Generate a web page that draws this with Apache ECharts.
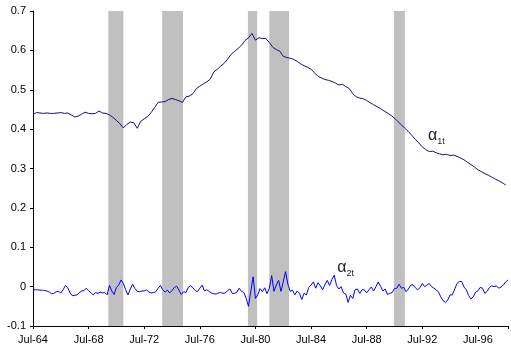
<!DOCTYPE html>
<html>
<head>
<meta charset="utf-8">
<script src="https://cdn.jsdelivr.net/npm/echarts@6/dist/echarts.min.js"></script>
<style>html,body{margin:0;padding:0;background:#fff}#c{width:511px;height:352px}</style>
</head>
<body>
<div id="c"></div>
<script>
// Month index 0 = Jul-1964
const tickLabels = ['Jul-64','Jul-68','Jul-72','Jul-76','Jul-80','Jul-84','Jul-88','Jul-92','Jul-96'];
const tickStep = 48;           // months between labelled ticks
const xMaxMonth = 410;

// recessions (month index start / end)
const recessionStart = [65, 111.5, 185.5, 204, 311.5];
const recessionEnd   = [78, 129.5, 193.5, 221, 321];

// alpha_1t, quarterly readings (every 3 months from Jul-64)
const alpha1Step = 3;
const alpha1 = [
0.437,0.442,0.441,0.440,0.441,0.440,0.440,0.441,0.442,0.440,0.441,0.436,0.431,0.433,0.438,0.443,
0.440,0.439,0.440,0.446,0.441,0.440,0.436,0.430,0.422,0.414,0.403,0.412,0.418,0.416,0.402,0.420,
0.426,0.432,0.442,0.455,0.468,0.469,0.470,0.475,0.478,0.475,0.472,0.468,0.482,0.484,0.490,0.503,
0.509,0.515,0.520,0.527,0.545,0.552,0.560,0.567,0.578,0.590,0.597,0.605,0.613,0.625,0.632,0.643,
0.626,0.632,0.630,0.630,0.620,0.608,0.602,0.598,0.585,0.582,0.580,0.577,0.572,0.566,0.561,0.557,
0.552,0.543,0.534,0.530,0.526,0.524,0.521,0.517,0.512,0.514,0.508,0.503,0.490,0.482,0.479,0.477,
0.473,0.467,0.462,0.457,0.452,0.446,0.441,0.435,0.428,0.419,0.411,0.402,0.394,0.384,0.374,0.365,
0.355,0.348,0.343,0.344,0.340,0.337,0.335,0.336,0.333,0.334,0.331,0.327,0.322,0.316,0.310,0.304,
0.297,0.292,0.287,0.283,0.278,0.273,0.269,0.264,0.258
];

// alpha_2t, bimonthly readings (every 2 months from Jul-64)
const alpha2Step = 2;
const alpha2 = [
-0.008,-0.008,-0.008,-0.009,-0.009,-0.010,-0.011,-0.014,-0.018,-0.017,-0.013,-0.012,-0.016,-0.008,0.003,-0.003,
-0.016,-0.023,-0.022,-0.021,-0.015,-0.011,-0.010,-0.004,-0.010,-0.016,-0.021,-0.015,-0.017,-0.014,-0.016,-0.015,
-0.021,0.003,-0.011,-0.020,-0.002,0.004,0.017,0.008,-0.008,-0.021,-0.006,0.006,-0.005,-0.012,-0.013,-0.011,
-0.011,-0.008,-0.014,-0.016,-0.015,-0.013,-0.004,0.003,-0.008,-0.014,-0.009,-0.016,-0.010,-0.002,0.001,-0.009,
-0.020,-0.013,-0.015,-0.002,0.002,-0.003,-0.010,-0.013,-0.004,0.004,-0.011,-0.008,-0.012,-0.016,-0.018,-0.019,
-0.016,-0.015,-0.017,-0.016,-0.010,-0.006,-0.017,-0.017,-0.014,-0.004,-0.012,-0.015,-0.030,-0.050,-0.012,0.025,
-0.030,-0.021,-0.005,-0.013,-0.003,-0.018,-0.004,0.028,-0.012,0.004,0.016,-0.012,0.012,0.038,0.006,-0.012,
-0.009,-0.021,-0.011,-0.017,-0.033,-0.017,-0.021,-0.002,0.004,0.012,-0.004,0.010,0.002,-0.008,0.005,0.016,
0.003,0.018,0.029,0.003,-0.006,0.000,-0.016,-0.019,-0.040,-0.022,-0.030,-0.008,-0.006,-0.017,-0.008,-0.008,
-0.016,-0.008,-0.001,-0.011,0.000,0.012,0.001,-0.011,-0.006,-0.020,-0.017,-0.015,-0.005,-0.004,0.006,-0.004,
-0.002,-0.013,-0.006,0.004,0.005,-0.003,-0.008,-0.003,0.008,0.000,0.004,0.008,0.000,-0.004,-0.008,-0.014,
-0.026,-0.036,-0.040,-0.034,-0.021,-0.021,-0.006,0.008,0.013,0.013,-0.001,-0.008,-0.023,-0.031,-0.026,-0.014,
-0.011,-0.002,-0.004,-0.017,-0.012,-0.002,0.002,0.000,0.002,-0.004,-0.001,0.004,0.012,0.017
];

// series label anchors (month index, value)
const label1At = [341, 0.385];
const label2At = [262.6, 0.05];

const font = 'Liberation Sans, Arial, sans-serif';
const chart = echarts.init(document.getElementById('c'), null, {renderer: 'canvas'});

const s1 = alpha1.map((v, i) => [i * alpha1Step, v]);
const s2 = alpha2.map((v, i) => [i * alpha2Step, v]);
const areas = recessionStart.map((s, i) => [{xAxis: s}, {xAxis: recessionEnd[i]}]);

const rich = {
  a: {fontSize: 16, fontFamily: font, color: '#222', lineHeight: 18, verticalAlign: 'bottom'},
  s: {fontSize: 9, fontFamily: font, color: '#222', lineHeight: 18, verticalAlign: 'bottom', padding: [0,0,-2,0]}
};
function seriesLabel(coord, sub) {
  return {
    symbol: 'circle', symbolSize: 0,
    data: [{coord: coord, value: sub}],
    label: {
      show: true, position: 'right', distance: 0,
      formatter: '{a|α}{s|' + sub + '}', rich: rich
    }
  };
}

chart.setOption({
  animation: false,
  backgroundColor: '#fff',
  grid: {left: 33, right: 0, top: 11, bottom: 26, containLabel: false},
  xAxis: {
    type: 'value', min: 0, max: xMaxMonth, interval: tickStep,
    axisLine: {onZero: false, lineStyle: {color: '#000', width: 1}},
    axisTick: {show: true, length: 3, inside: false, lineStyle: {color: '#000'}},
    splitLine: {show: false},
    axisLabel: {
      fontFamily: font, fontSize: 11, color: '#000', margin: 8,
      formatter: v => tickLabels[Math.round(v / tickStep)] || ''
    }
  },
  yAxis: {
    type: 'value', min: -0.1, max: 0.7, interval: 0.1,
    axisLine: {show: true, lineStyle: {color: '#000', width: 1}},
    axisTick: {show: true, length: 3, lineStyle: {color: '#000'}},
    splitLine: {show: false},
    axisLabel: {
      fontFamily: font, fontSize: 11, color: '#000', margin: 7,
      formatter: v => String(+v.toFixed(1))
    }
  },
  series: [
    {
      type: 'line', data: [], z: 1, silent: true,
      markArea: {silent: true, itemStyle: {color: '#C0C0C0', opacity: 1}, data: areas}
    },
    {
      type: 'line', data: s1, z: 3, showSymbol: false, symbol: 'none',
      lineStyle: {color: '#101080', width: 1},
      markPoint: seriesLabel(label1At, '1t')
    },
    {
      type: 'line', data: s2, z: 3, showSymbol: false, symbol: 'none',
      lineStyle: {color: '#0000FF', width: 1},
      markPoint: seriesLabel(label2At, '2t')
    }
  ]
});
</script>
</body>
</html>
